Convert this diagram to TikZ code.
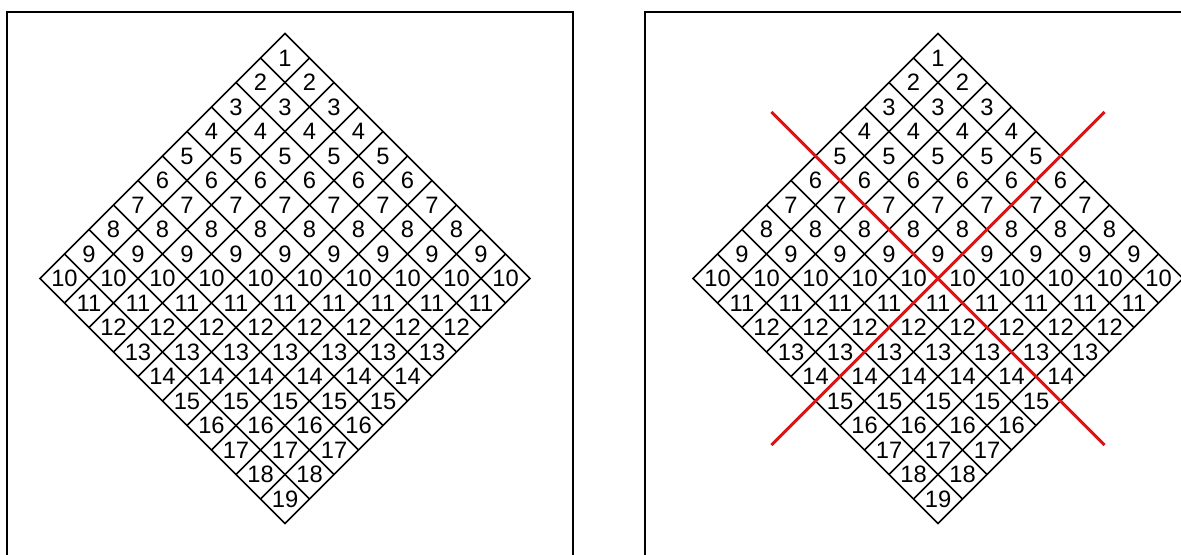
\documentclass[tikz,border=0pt]{standalone}
\usepackage{fontspec}
\setmainfont{Liberation Sans}
\usepackage{xcolor}
\usepackage{tikz}

\definecolor{cutred}{RGB}{220,20,20}

\begin{document}
\begin{tikzpicture}[
    gridline/.style={black, line width=0.9pt},
    frameline/.style={black, line width=0.8pt},
    cutline/.style={cutred, line width=1.7pt},
    cellnum/.style={font=\fontsize{13.5}{15}\selectfont, inner sep=0pt}
  ]
    % Picture size (the frames run off the bottom and right)
    \useasboundingbox (0,0) rectangle (23.62,11.08);
    \clip (0,0) rectangle (23.62,11.08);

    % Frames
    \draw[frameline] (0.14,-1) -- (0.14,10.84) -- (11.46,10.84) -- (11.46,-1);
    \draw[frameline] (12.90,-1) -- (12.90,10.84) -- (25,10.84) -- (25,-1);

    % Two copies of the turned grid
    \foreach \side/\cx in {L/5.70, R/18.76} {
      \begin{scope}[shift={(\cx,5.51)}, rotate=-45, scale=0.693]
        % grid lines
        \foreach \k in {-4,...,4} {
          \draw[gridline] (\k,-5) -- (\k,5);
          \draw[gridline] (-5,\k) -- (5,\k);
        }
        \draw[gridline, line join=miter] (-5,-5) rectangle (5,5);

        % numbers: i+j+1 in each cell
        \foreach \i in {0,...,9} {
          \foreach \j in {0,...,9} {
            \pgfmathtruncatemacro{\num}{\i+\j+1}
            \node[cellnum] (\side-\i-\j) at (\j-4.5,4.5-\i) {\num};
          }
        }
      \end{scope}
    }

    % Cut lines on the right copy
    \begin{scope}[shift={(18.76,5.51)}, rotate=-45, scale=0.693]
      \coordinate (cutA1) at (-6.8,0);
      \coordinate (cutA2) at (6.8,0);
      \coordinate (cutB1) at (0,6.8);
      \coordinate (cutB2) at (0,-6.8);
    \end{scope}
    \draw[cutline] (cutA1) -- (cutA2);
    \draw[cutline] (cutB1) -- (cutB2);
\end{tikzpicture}
\end{document}
